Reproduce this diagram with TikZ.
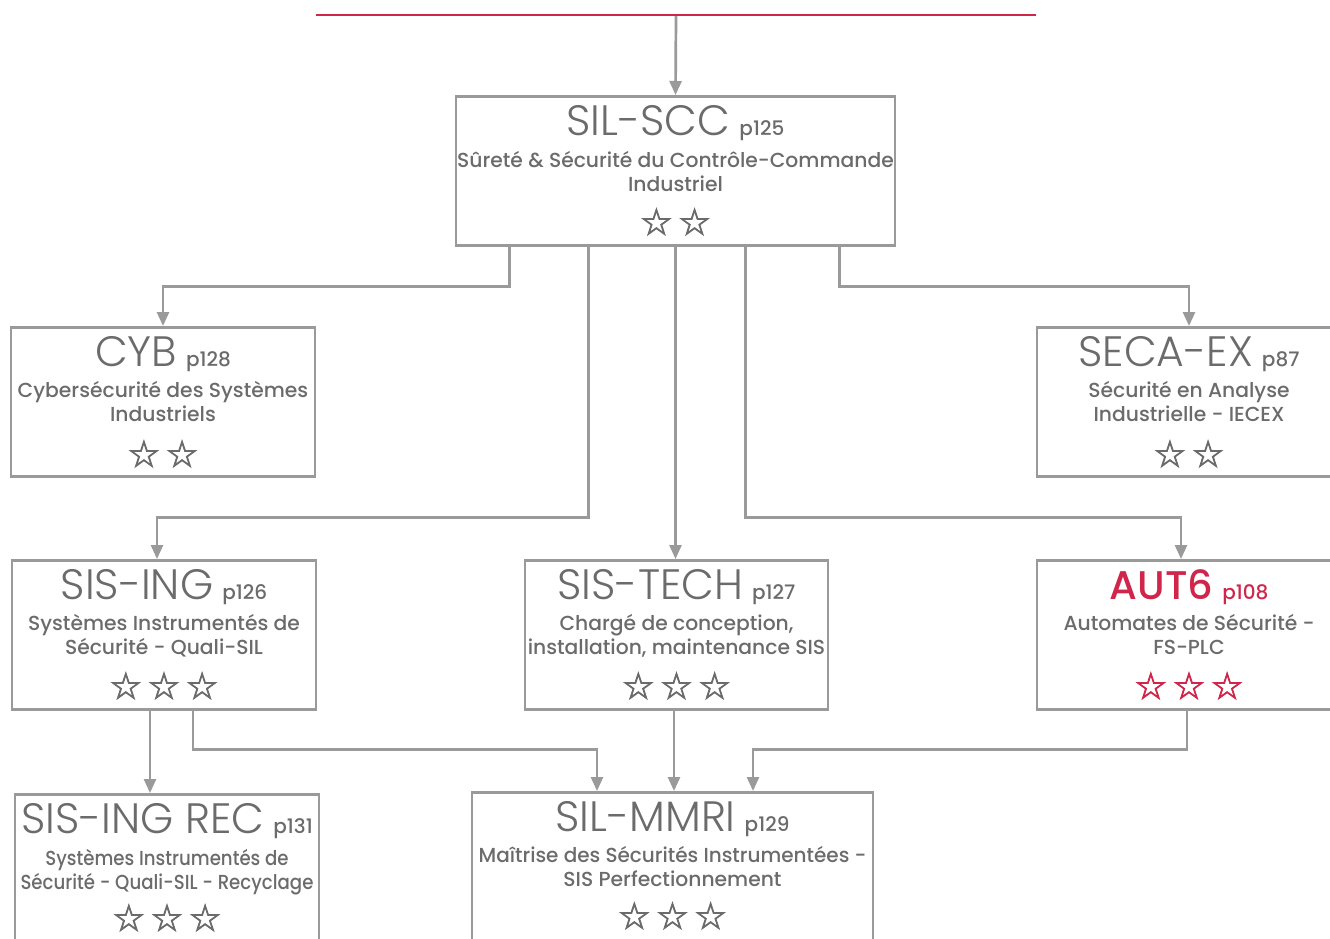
\documentclass[tikz,border=0pt]{standalone}
\usepackage{fontspec}
\usepackage{graphicx}
\usetikzlibrary{calc,arrows.meta}
\newfontfamily\titlefont{Poppins Light}
\newfontfamily\pfont{Poppins Medium}
\newfontfamily\subfont{Poppins Medium}
\newfontfamily\starfont{DejaVu Sans}[FakeBold=2]
\definecolor{lgray}{HTML}{9A9A9A}
\definecolor{tgray}{HTML}{6B6B6B}
\definecolor{cred}{HTML}{D0264B}
\newcommand{\pg}[1]{\hspace{9pt}{\pfont\fontsize{20}{20}\selectfont #1}}
\begin{document}
\begin{tikzpicture}[x=1pt,y=-1pt,
  box/.style={draw=lgray,line width=2.7pt,rectangle,anchor=north,inner sep=0pt,minimum height=149pt},
  ttl/.style={anchor=base,inner sep=0pt,text=tgray,font=\titlefont\fontsize{42.5}{42.5}\selectfont},
  sub/.style={anchor=base,inner sep=0pt,text=tgray,font=\subfont\fontsize{20.3}{24}\selectfont},
  stars/.style={anchor=base,inner sep=0pt,text=tgray,font=\starfont\fontsize{37}{37}\selectfont},
  conn/.style={draw=lgray,line width=2.7pt,-{Triangle[length=14pt,width=12pt]}},
  redline/.style={draw=cred,line width=2.7pt}]
\useasboundingbox (0,0) rectangle (1330,938);

% boxes
\node[box,minimum width=439pt] (scc) at (675.5,95) {};
\node[box,minimum width=304pt] (cyb) at (163,326) {};
\node[box,minimum width=304pt] (seca) at (1189,326) {};
\node[box,minimum width=304pt] (sising) at (164,559) {};
\node[box,minimum width=303pt] (sistech) at (676.5,559) {};
\node[box,minimum width=304pt] (aut6) at (1189,559) {};
\node[box,minimum width=304pt] (rec) at (167,793) {};
\node[box,minimum width=401pt] (mmri) at (672.5,791) {};

% SIL-SCC
\node[ttl] (scc-t) at ($(scc.north)+(0,40)$) {SIL-SCC\pg{p125}};
\node[sub] (scc-s1) at ($(scc.north)+(0,72)$) {Sûreté \& Sécurité du Contrôle-Commande};
\node[sub] (scc-s2) at ($(scc.north)+(0,96)$) {Industriel};
\node[stars] (scc-r) at ($(scc.north)+(0,140)$) {☆\hspace{5pt}☆};

% CYB
\node[ttl] (cyb-t) at ($(cyb.north)+(0,40)$) {CYB\pg{p128}};
\node[sub] (cyb-s1) at ($(cyb.north)+(0,71)$) {Cybersécurité des Systèmes};
\node[sub] (cyb-s2) at ($(cyb.north)+(0,95)$) {Industriels};
\node[stars] (cyb-r) at ($(cyb.north)+(0,141)$) {☆\hspace{5pt}☆};

% SECA-EX
\node[ttl] (seca-t) at ($(seca.north)+(0,40)$) {SECA-EX\pg{p87}};
\node[sub] (seca-s1) at ($(seca.north)+(0,71)$) {Sécurité en Analyse};
\node[sub] (seca-s2) at ($(seca.north)+(0,95)$) {Industrielle - IECEX};
\node[stars] (seca-r) at ($(seca.north)+(0,141)$) {☆\hspace{5pt}☆};

% SIS-ING
\node[ttl] (sising-t) at ($(sising.north)+(0,40)$) {SIS-ING\pg{p126}};
\node[sub] (sising-s1) at ($(sising.north)+(0,71)$) {Systèmes Instrumentés de};
\node[sub] (sising-s2) at ($(sising.north)+(0,95)$) {Sécurité - Quali-SIL};
\node[stars] (sising-r) at ($(sising.north)+(0,140)$) {☆\hspace{5pt}☆\hspace{5pt}☆};

% SIS-TECH
\node[ttl] (sistech-t) at ($(sistech.north)+(0,40)$) {SIS-TECH\pg{p127}};
\node[sub] (sistech-s1) at ($(sistech.north)+(0,71)$) {Chargé de conception,};
\node[sub] (sistech-s2) at ($(sistech.north)+(0,95)$) {installation, maintenance SIS};
\node[stars] (sistech-r) at ($(sistech.north)+(0,140)$) {☆\hspace{5pt}☆\hspace{5pt}☆};

% AUT6
\node[ttl,text=cred,font=\pfont\fontsize{40}{40}\selectfont] (aut6-t) at ($(aut6.north)+(0,40)$) {AUT6\pg{p108}};
\node[sub] (aut6-s1) at ($(aut6.north)+(0,71)$) {Automates de Sécurité -};
\node[sub] (aut6-s2) at ($(aut6.north)+(0,95)$) {FS-PLC};
\node[stars,text=cred] (aut6-r) at ($(aut6.north)+(0,140)$) {☆\hspace{5pt}☆\hspace{5pt}☆};

% SIS-ING REC
\node[ttl] (rec-t) at ($(rec.north)+(0,40)$) {SIS-ING REC\pg{p131}};
\node[sub] (rec-s1) at ($(rec.north)+(0,72)$) {\scalebox{0.895}[1]{Systèmes Instrumentés de}};
\node[sub] (rec-s2) at ($(rec.north)+(0,96)$) {\scalebox{0.895}[1]{Sécurité - Quali-SIL - Recyclage}};
\node[stars] (rec-r) at ($(rec.north)+(0,138)$) {☆\hspace{5pt}☆\hspace{5pt}☆};

% SIL-MMRI
\node[ttl] (mmri-t) at ($(mmri.north)+(0,40)$) {SIL-MMRI\pg{p129}};
\node[sub] (mmri-s1) at ($(mmri.north)+(0,71)$) {\scalebox{0.985}[1]{Maîtrise des Sécurités Instrumentées -}};
\node[sub] (mmri-s2) at ($(mmri.north)+(0,95)$) {SIS Perfectionnement};
\node[stars] (mmri-r) at ($(mmri.north)+(0,138)$) {☆\hspace{5pt}☆\hspace{5pt}☆};

% red line and connectors
\coordinate (rl) at (316,15);
\coordinate (rr) at (1036,15);
\draw[redline] (rl) -- (rr);
\draw[conn] ($(rl)!0.5!(rr)+(0,1)$) -- (scc.north);

\draw[conn] ($(scc.south west)+(55,0)$) -- ++(0,40) -| (cyb.north);
\draw[conn] ($(scc.south west)+(385,0)$) -- ++(0,40) -| (seca.north);
\draw[conn] ($(scc.south west)+(134,0)$) -- ++(0,271) -| ($(sising.north)+(-7,0)$);
\draw[conn] (scc.south) -- (scc.south |- sistech.north);
\draw[conn] ($(scc.south west)+(291,0)$) -- ++(0,271) -| ($(aut6.north)+(-8,0)$);

\draw[conn] ($(sising.south)+(-14,0)$) coordinate (s1) -- (s1 |- rec.north);
\draw[conn] ($(sising.south)+(29,0)$) -- ++(0,39) -| ($(mmri.north)+(-75.5,0)$);
\draw[conn] ($(sistech.south)+(-2.5,0)$) coordinate (s2) -- (s2 |- mmri.north);
\draw[conn] ($(aut6.south)+(-2,0)$) -- ++(0,39) -| ($(mmri.north)+(80.5,0)$);
\end{tikzpicture}
\end{document}
